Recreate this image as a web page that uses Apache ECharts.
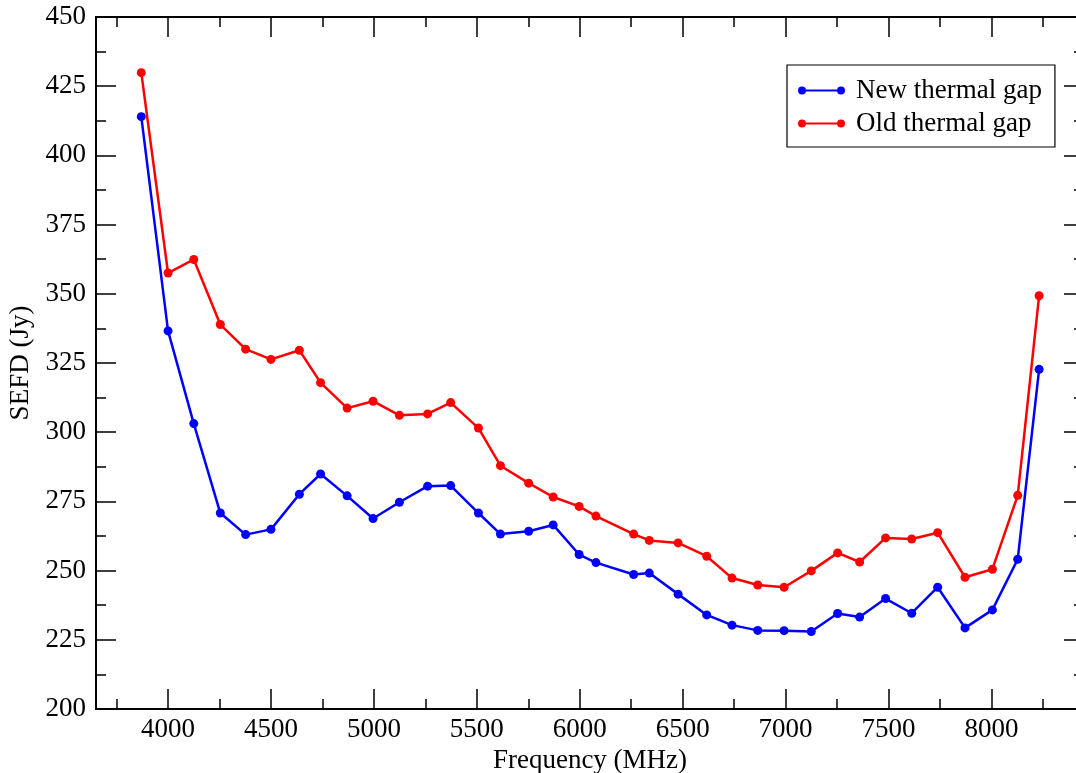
<!DOCTYPE html>
<html>
<head>
<meta charset="utf-8">
<script src="https://cdn.jsdelivr.net/npm/echarts@6/dist/echarts.min.js"></script>
<style>
  html, body { margin: 0; padding: 0; overflow: hidden; background: #fff; }
  #chart { width: 1092px; height: 773px; }
</style>
</head>
<body>
<div id="chart"></div>
<script>
// frequency of each measurement (MHz)
const freq = [3870, 4000, 4125, 4254, 4377, 4500, 4638, 4741, 4870, 4996, 5124, 5261,
  5373, 5508, 5615, 5752, 5871, 5997, 6079, 6262, 6338, 6478, 6617, 6740,
  6865, 6993, 7125, 7253, 7360, 7486, 7613, 7739, 7872, 8005, 8128, 8232]
// SEFD (Jy)
const newGap = [414.0, 336.6, 303.1, 270.8, 263.0, 264.9, 277.6, 284.9, 277.0, 268.8, 274.7, 280.5,
  280.7, 270.8, 263.2, 264.2, 266.5, 255.8, 252.9, 248.6, 249.1, 241.5, 234.0, 230.3,
  228.4, 228.3, 228.0, 234.5, 233.2, 239.9, 234.6, 244.0, 229.3, 235.8, 254.1, 322.7]
const oldGap = [429.9, 357.5, 362.4, 338.9, 330.0, 326.3, 329.6, 317.9, 308.7, 311.2, 306.1, 306.6,
  310.7, 301.5, 287.9, 281.6, 276.6, 273.2, 269.7, 263.2, 260.9, 260.0, 255.2, 247.3,
  244.8, 244.0, 249.9, 256.4, 253.1, 261.8, 261.4, 263.7, 247.6, 250.5, 277.2, 349.3]
// tick positions
const xMajor = [4000, 4500, 5000, 5500, 6000, 6500, 7000, 7500, 8000]
const xMinor = [3750, 4250, 4750, 5250, 5750, 6250, 6750, 7250, 7750, 8250]

const font = 'Liberation Serif'
const fs = 27
const black = '#000'
const blue = '#0000ff'
const red = '#ff0000'

// legend icon: dot - line - dot (line kept outside the dots so nothing cancels out)
const legendIcon = 'path://M0,4a4,4 0 1,1 8,0a4,4 0 1,1 -8,0ZM8,3L39,3L39,5L8,5ZM39,4a4,4 0 1,1 8,0a4,4 0 1,1 -8,0Z'

function xAx(pos, ticks, len, labels) {
  return {
    type: 'value',
    position: pos,
    min: 3650,
    max: 8450,
    axisLine: { show: true, onZero: false, lineStyle: { color: black, width: 2 } },
    axisTick: { show: true, inside: true, length: len, customValues: ticks, lineStyle: { color: black, width: 1.5 } },
    axisLabel: {
      show: labels,
      customValues: ticks,
      formatter: (v) => String(v),
      margin: 7,
      color: black,
      fontFamily: font,
      fontSize: fs,
    },
    splitLine: { show: false },
  }
}

function yAx(pos, labels) {
  return {
    type: 'value',
    position: pos,
    min: 200,
    max: 450,
    interval: 25,
    axisLine: { show: true, onZero: false, lineStyle: { color: black, width: 2 } },
    axisTick: { show: true, inside: true, length: 20, lineStyle: { color: black, width: 1.5 } },
    minorTick: { show: true, splitNumber: 2, length: 10, lineStyle: { color: black, width: 1.5 } },
    axisLabel: { show: labels, margin: 10, color: black, fontFamily: font, fontSize: fs },
    splitLine: { show: false },
  }
}

const bottom = xAx('bottom', xMajor, 20, true)
bottom.name = 'Frequency (MHz)'
bottom.nameLocation = 'middle'
bottom.nameGap = 35
bottom.nameTextStyle = { color: black, fontFamily: font, fontSize: fs }

const left = yAx('left', true)
left.name = 'SEFD (Jy)'
left.nameLocation = 'middle'
left.nameGap = 56
left.nameTextStyle = { color: black, fontFamily: font, fontSize: fs }

const option = {
  animation: false,
  backgroundColor: '#fff',
  grid: { left: 96, top: 17, width: 988, height: 692, outerBoundsMode: 'none', containLabel: false },
  legend: {
    orient: 'vertical',
    left: 787,
    top: 65,
    padding: [12, 13, 10, 11],
    borderColor: black,
    borderWidth: 1.2,
    borderRadius: 0,
    itemWidth: 47,
    itemHeight: 8,
    itemGap: 6,
    icon: legendIcon,
    textStyle: { color: black, fontFamily: font, fontSize: fs, lineHeight: 27, padding: [0, 0, 0, 6] },
    data: [
      { name: 'New thermal gap', itemStyle: { color: blue, borderWidth: 0 } },
      { name: 'Old thermal gap', itemStyle: { color: red, borderWidth: 0 } },
    ],
  },
  xAxis: [
    bottom,
    xAx('bottom', xMinor, 10, false),
    xAx('top', xMajor, 20, false),
    xAx('top', xMinor, 10, false),
  ],
  yAxis: [left, yAx('right', false)],
  series: [
    {
      name: 'New thermal gap',
      type: 'line',
      data: freq.map((f, i) => [f, newGap[i]]),
      symbol: 'circle',
      symbolSize: 9,
      itemStyle: { color: blue },
      lineStyle: { width: 2.5, color: blue },
    },
    {
      name: 'Old thermal gap',
      type: 'line',
      data: freq.map((f, i) => [f, oldGap[i]]),
      symbol: 'circle',
      symbolSize: 9,
      itemStyle: { color: red },
      lineStyle: { width: 2.5, color: red },
    },
  ],
}

const chart = echarts.init(document.getElementById('chart'))
chart.setOption(option)
</script>
</body>
</html>
